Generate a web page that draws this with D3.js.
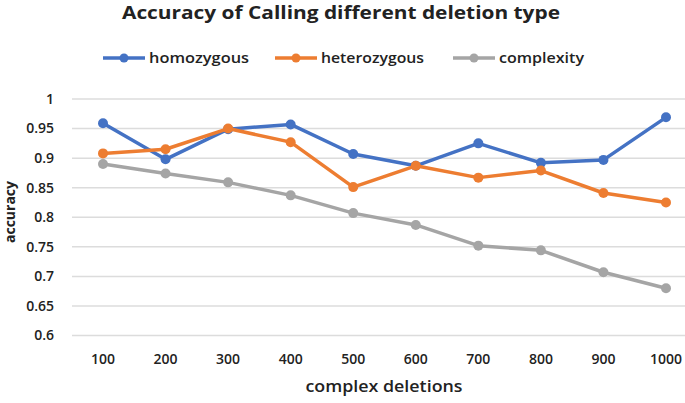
<!DOCTYPE html>
<html>
<head>
<meta charset="utf-8">
<script src="https://cdn.jsdelivr.net/npm/d3@7"></script>
<style>
  body { margin: 0; background: #fff; }
  svg text { font-family: "Open Sans", "DejaVu Sans", sans-serif; fill: #222; }
</style>
</head>
<body>
<div id="chart"></div>
<script>
const categories = ["100", "200", "300", "400", "500", "600", "700", "800", "900", "1000"];
const homozygous = [0.959, 0.898, 0.949, 0.957, 0.907, 0.887, 0.925, 0.892, 0.897, 0.969];
const heterozygous = [0.908, 0.915, 0.950, 0.927, 0.851, 0.887, 0.867, 0.879, 0.841, 0.825];
const complexity = [0.890, 0.874, 0.859, 0.837, 0.807, 0.787, 0.752, 0.744, 0.707, 0.680];
const yTicks = [0.6, 0.65, 0.7, 0.75, 0.8, 0.85, 0.9, 0.95, 1];

const series = [
    { name: "homozygous", values: homozygous, color: "#4472c4" },
    { name: "heterozygous", values: heterozygous, color: "#ed7d31" },
    { name: "complexity", values: complexity, color: "#a5a5a5" }
];

const width = 685, height = 403;
const svg = d3.select("#chart")
    .append("svg")
    .attr("width", width)
    .attr("height", height);

const x = d3.scalePoint()
    .domain(categories)
    .range([103, 666]);

const y = d3.scaleLinear()
    .domain([0.6, 1])
    .range([335.5, 99]);

// gridlines
svg.append("g")
    .selectAll("line")
    .data(yTicks)
    .join("line")
    .attr("x1", 72)
    .attr("x2", 698)
    .attr("y1", d => y(d))
    .attr("y2", d => y(d))
    .attr("stroke", "#dcdcdc")
    .attr("stroke-width", 1.5);

// y tick labels
svg.append("g")
    .selectAll("text")
    .data(yTicks)
    .join("text")
    .attr("x", 54)
    .attr("y", d => y(d))
    .attr("dy", "0.35em")
    .attr("text-anchor", "end")
    .attr("font-size", 14)
    .attr("font-weight", 600)
    .text(d => d3.format("")(d));

// x tick labels
svg.append("g")
    .selectAll("text")
    .data(categories)
    .join("text")
    .attr("x", d => x(d))
    .attr("y", 364)
    .attr("text-anchor", "middle")
    .attr("font-size", 14)
    .attr("font-weight", 600)
    .text(d => d);

// axis titles
svg.append("text")
    .attr("x", 384)
    .attr("y", 392)
    .attr("text-anchor", "middle")
    .attr("font-size", 16)
    .attr("font-weight", 600)
    .attr("textLength", 157)
    .attr("lengthAdjust", "spacingAndGlyphs")
    .text("complex deletions");

svg.append("text")
    .attr("transform", "translate(15, 212) rotate(-90)")
    .attr("text-anchor", "middle")
    .attr("font-size", 14)
    .attr("font-weight", 700)
    .text("accuracy");

// title
svg.append("text")
    .attr("x", 341)
    .attr("y", 19)
    .attr("text-anchor", "middle")
    .attr("font-size", 18)
    .attr("font-weight", 700)
    .attr("textLength", 438)
    .attr("lengthAdjust", "spacingAndGlyphs")
    .text("Accuracy of Calling different deletion type");

// lines
const line = d3.line()
    .x((d, i) => x(categories[i]))
    .y(d => y(d));

const sg = svg.append("g")
    .selectAll("g")
    .data(series)
    .join("g");

sg.append("path")
    .attr("d", d => line(d.values))
    .attr("fill", "none")
    .attr("stroke", d => d.color)
    .attr("stroke-width", 3.5)
    .attr("stroke-linejoin", "round");

sg.each(function (s) {
    d3.select(this).selectAll("circle")
        .data(s.values)
        .join("circle")
        .attr("cx", (d, i) => x(categories[i]))
        .attr("cy", d => y(d))
        .attr("r", 5)
        .attr("fill", s.color);
});

// legend
const legendX = [103, 275, 453];
const legendW = [100, 103, 85];
const legend = svg.append("g")
    .selectAll("g")
    .data(series)
    .join("g")
    .attr("transform", (d, i) => `translate(${legendX[i]}, 58)`);

legend.append("line")
    .attr("x1", 0)
    .attr("x2", 42)
    .attr("stroke", d => d.color)
    .attr("stroke-width", 3.5);

legend.append("circle")
    .attr("cx", 21)
    .attr("r", 4.5)
    .attr("fill", d => d.color);

legend.append("text")
    .attr("x", 46)
    .attr("dy", "0.35em")
    .attr("font-size", 15)
    .attr("font-weight", 600)
    .attr("textLength", (d, i) => legendW[i])
    .attr("lengthAdjust", "spacingAndGlyphs")
    .text(d => d.name);
</script>
</body>
</html>
